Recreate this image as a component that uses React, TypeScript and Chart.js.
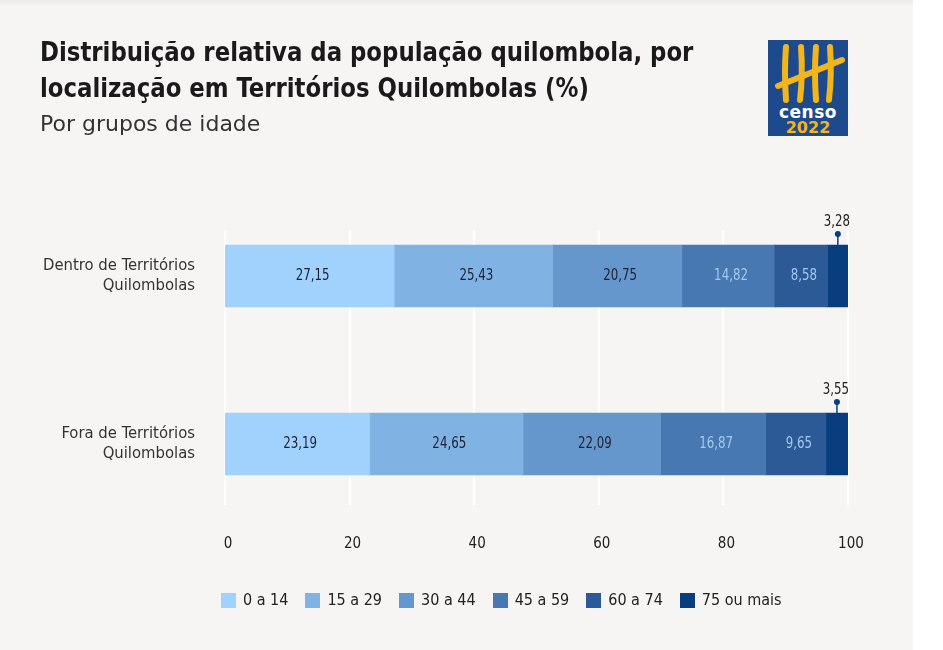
import React, { useEffect, useRef } from 'react';
import { Chart, registerables } from 'chart.js';

Chart.register(...registerables);

// ---------- data ----------
const categories = [
  ['Dentro de Territórios', 'Quilombolas'],
  ['Fora de Territórios', 'Quilombolas'],
];
const ageGroups = ['0 a 14', '15 a 29', '30 a 44', '45 a 59', '60 a 74', '75 ou mais'];
const age0to14 = [27.15, 23.19];
const age15to29 = [25.43, 24.65];
const age30to44 = [20.75, 22.09];
const age45to59 = [14.82, 16.87];
const age60to74 = [8.58, 9.65];
const age75plus = [3.28, 3.55];
const seriesValues = [age0to14, age15to29, age30to44, age45to59, age60to74, age75plus];
const xTickValues = [0, 20, 40, 60, 80, 100];

// ---------- styles ----------
const FONT = '"DejaVu Sans Condensed", "Liberation Sans Narrow", sans-serif';
const BG = '#f6f5f3';
const seriesColors = ['#a0d2fd', '#80b2e3', '#6596cc', '#4878b2', '#2c5a96', '#083e7d'];
const valueLabelColors = ['#1c2230', '#1c2230', '#1c2230', '#a4c9f0', '#a4c9f0', '#222222'];
const BAR_THICKNESS = 62;

const fmt = (v: number) => v.toFixed(2).replace('.', ',');

const gridPlugin = {
  id: 'customGrid',
  beforeDatasetsDraw(chart: any) {
    const { ctx, scales } = chart;
    const x = scales.x;
    const y = scales.y;
    const top = y.getPixelForValue(0) - BAR_THICKNESS / 2 - 15;
    const bottom = y.getPixelForValue(categories.length - 1) + BAR_THICKNESS / 2 + 30;
    ctx.save();
    ctx.strokeStyle = '#ffffff';
    ctx.lineWidth = 2;
    x.ticks.forEach((t: any) => {
      const px = Math.round(x.getPixelForValue(t.value));
      ctx.beginPath();
      ctx.moveTo(px, top);
      ctx.lineTo(px, bottom);
      ctx.stroke();
    });
    ctx.restore();
  },
};

function condensedText(ctx: CanvasRenderingContext2D, text: string, x: number, y: number) {
  ctx.save();
  ctx.translate(x, y);
  ctx.scale(0.82, 1);
  ctx.fillText(text, 0, 0);
  ctx.restore();
}

const valueLabelPlugin = {
  id: 'valueLabels',
  afterDatasetsDraw(chart: any) {
    const { ctx } = chart;
    ctx.save();
    ctx.font = `16px ${FONT}`;
    ctx.textAlign = 'center';
    ctx.textBaseline = 'middle';
    const last = chart.data.datasets.length - 1;
    chart.data.datasets.forEach((ds: any, i: number) => {
      const meta = chart.getDatasetMeta(i);
      meta.data.forEach((bar: any, j: number) => {
        const p = bar.getProps(['x', 'y', 'base', 'height'], true);
        const cx = (p.x + p.base) / 2;
        const v = ds.data[j];
        if (i === last) {
          const topY = p.y - p.height / 2;
          ctx.strokeStyle = seriesColors[i];
          ctx.fillStyle = seriesColors[i];
          ctx.lineWidth = 1.5;
          ctx.beginPath();
          ctx.moveTo(cx, topY);
          ctx.lineTo(cx, topY - 11);
          ctx.stroke();
          ctx.beginPath();
          ctx.arc(cx, topY - 11, 3, 0, Math.PI * 2);
          ctx.fill();
          ctx.fillStyle = valueLabelColors[i];
          condensedText(ctx, fmt(v), cx - 1, topY - 23);
        } else {
          ctx.fillStyle = valueLabelColors[i];
          condensedText(ctx, fmt(v), cx + 3, p.y);
        }
      });
    });
    ctx.restore();
  },
};

function Logo() {
  return (
    <svg
      width={80}
      height={96}
      viewBox="0 0 80 96"
      style={{ position: 'absolute', left: 768, top: 40 }}
    >
      <rect x={0} y={0} width={80} height={96} fill="#1c4a8c" />
      <g stroke="#f2b51c" strokeWidth={6} strokeLinecap="round" fill="none">
        <path d="M18 7 Q16 32 18 60" />
        <path d="M33 7 Q35 34 32 60" />
        <path d="M48 7 Q46 32 48 60" />
        <path d="M62 7 Q64 34 61 60" />
        <path d="M10 46 Q40 34 74 20" />
      </g>
      <text
        x={40}
        y={78}
        textAnchor="middle"
        fill="#ffffff"
        style={{ font: `bold 17px "DejaVu Sans", sans-serif`, letterSpacing: '0.5px' }}
      >
        censo
      </text>
      <text
        x={40}
        y={93}
        textAnchor="middle"
        fill="#f2b51c"
        style={{ font: `bold 16px "DejaVu Sans", sans-serif` }}
      >
        2022
      </text>
    </svg>
  );
}

export default function App() {
  const ref = useRef<HTMLCanvasElement>(null);

  useEffect(() => {
    if (!ref.current) return;
    const chart = new Chart(ref.current, {
      type: 'bar',
      data: {
        labels: categories as any,
        datasets: seriesValues.map((vals, i) => ({
          label: ageGroups[i],
          data: vals,
          backgroundColor: seriesColors[i],
          borderWidth: 0,
          barThickness: BAR_THICKNESS,
        })),
      },
      options: {
        indexAxis: 'y',
        responsive: false,
        animation: false,
        layout: { padding: { top: 192, right: 65, bottom: 0, left: 0 } },
        plugins: {
          legend: { display: false },
          title: { display: false },
          tooltip: { enabled: false },
        },
        scales: {
          x: {
            type: 'linear',
            stacked: true,
            min: 0,
            max: 100,
            afterBuildTicks: (scale: any) => {
              scale.ticks = xTickValues.map((v) => ({ value: v }));
            },
            afterFit: (scale: any) => {
              scale.height = 122;
            },
            ticks: {
              color: '#222',
              font: { family: FONT, size: 15 },
              padding: 7,
              labelOffset: 3,
            },
            grid: { display: false, drawTicks: false },
            border: { display: false },
          },
          y: {
            type: 'category',
            stacked: true,
            offset: true,
            afterFit: (scale: any) => {
              scale.width = 225;
            },
            ticks: {
              color: '#333',
              font: { family: FONT, size: 16.5, lineHeight: 1.212 },
              padding: 30,
            },
            grid: { display: false, drawTicks: false },
            border: { display: false },
          },
        },
      },
      plugins: [gridPlugin, valueLabelPlugin],
    } as any);
    return () => chart.destroy();
  }, []);

  return (
    <div
      style={{
        position: 'absolute',
        left: 0,
        top: 0,
        width: 913,
        height: 650,
        background: BG,
        overflow: 'hidden',
        fontFamily: FONT,
      }}
    >
      <div
        style={{
          position: 'absolute',
          left: 0,
          top: 0,
          width: 913,
          height: 6,
          background: 'linear-gradient(rgba(0,0,0,0.05), rgba(0,0,0,0))',
        }}
      />
      <canvas ref={ref} width={913} height={650} style={{ position: 'absolute', left: 0, top: 0 }} />
      <div
        style={{
          position: 'absolute',
          left: 40,
          top: 34,
          fontSize: 27,
          lineHeight: '36px',
          fontWeight: 'bold',
          color: '#1a1a1a',
          whiteSpace: 'nowrap',
          transform: 'scaleX(0.94)',
          transformOrigin: 'left top',
        }}
      >
        <div>Distribuição relativa da população quilombola, por</div>
        <div>localização em Territórios Quilombolas (%)</div>
      </div>
      <div
        style={{
          position: 'absolute',
          left: 40,
          top: 110,
          fontSize: 22,
          lineHeight: '28px',
          color: '#333',
          whiteSpace: 'nowrap',
          fontFamily: '"DejaVu Sans", sans-serif',
        }}
      >
        Por grupos de idade
      </div>
      <Logo />
      <div
        style={{
          position: 'absolute',
          left: 221,
          top: 590,
          display: 'flex',
          alignItems: 'center',
          fontSize: 16,
          lineHeight: '20px',
          color: '#222',
          whiteSpace: 'nowrap',
        }}
      >
        {ageGroups.map((g, i) => (
          <div key={g} style={{ display: 'flex', alignItems: 'center', marginRight: 17 }}>
            <span
              style={{
                display: 'inline-block',
                width: 15,
                height: 15,
                background: seriesColors[i],
                marginRight: 7,
              }}
            />
            <span>{g}</span>
          </div>
        ))}
      </div>
    </div>
  );
}
